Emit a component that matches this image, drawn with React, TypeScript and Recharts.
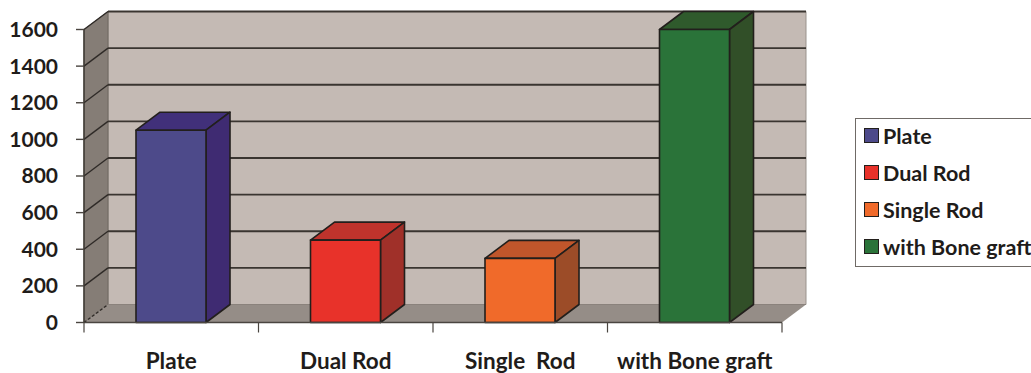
import React from "react";
import { BarChart, Bar, XAxis, YAxis, CartesianGrid, ReferenceArea } from "recharts";

const categories = ["Plate", "Dual Rod", "Single Rod", "with Bone graft"];
const axisLabels = ["Plate", "Dual Rod", "Single\u00a0 Rod", "with Bone graft"];
const values = [1050, 450, 350, 1600];
const yTicks = [0, 200, 400, 600, 800, 1000, 1200, 1400, 1600];

const frontColors = ["#4d4a8a", "#e8322a", "#f06a2a", "#2a7339"];
const topColors = ["#41307a", "#bf332c", "#c0562b", "#2f5a2c"];
const sideColors = ["#3f2b72", "#a03029", "#9c4c28", "#314f28"];

const tableRows = categories.map((name, i) => ({ name, label: axisLabels[i], value: values[i] }));

// Oblique offset of the fake 3D depth
const DX = 24;
const DY = 18;
const FONT = "Lato, 'Open Sans', sans-serif";
const INK = "#1f1c1a";

function poly(points: number[][]) {
  return points.map((p) => p.join(",")).join(" ");
}

// Back wall, left wall and floor of the box behind the bars
function Room(props: any) {
  const { x, y, width, height } = props;
  const b = y + height;
  const r = x + width;
  return (
    <g>
      <polygon points={poly([[x + DX, y - DY], [r + DX, y - DY], [r + DX, b - DY], [x + DX, b - DY]])} fill="#c4bab4" stroke="#9a938d" />
      <polygon points={poly([[x, y], [x + DX, y - DY], [x + DX, b - DY], [x, b]])} fill="#857d76" stroke="#6f6861" />
      <polygon points={poly([[x, b], [x + DX, b - DY], [r + DX, b - DY], [r, b]])} fill="#958d87" />
    </g>
  );
}

// Each grid line runs along the back wall and folds down the left wall
function GridLine(props: any) {
  const { x1, x2, y1, y2, index } = props;
  const isBase = y1 > 320;
  return (
    <g key={`grid-${index}`}>
      <line x1={x1 + DX} x2={x2 + DX} y1={y1 - DY} y2={y2 - DY} stroke={isBase ? "#8a827c" : "#3a3530"} strokeWidth={isBase ? 1 : 1.8} />
      <line x1={x1} x2={x1 + DX} y1={y1} y2={y1 - DY} stroke="#2f2b27" strokeWidth={1.4} strokeDasharray={isBase ? "3 2" : undefined} />
    </g>
  );
}

// Cuboid bar: front face plus top and right faces
function Cuboid(props: any) {
  const { x, y, width, height, index } = props;
  const r = x + width;
  const b = y + height;
  return (
    <g stroke="#221f1c" strokeWidth={1.6} strokeLinejoin="round">
      <polygon points={poly([[x, y], [x + DX, y - DY], [r + DX, y - DY], [r, y]])} fill={topColors[index]} />
      <polygon points={poly([[r, y], [r + DX, y - DY], [r + DX, b - DY], [r, b]])} fill={sideColors[index]} />
      <rect x={x} y={y} width={width} height={height} fill={frontColors[index]} />
    </g>
  );
}

// Category label with tick marks on the band edges rather than the band centre
function CategoryTick(props: any) {
  const { x, y, payload, index } = props;
  const half = payload.offset || 87.25;
  return (
    <g>
      <line x1={x - half} x2={x - half} y1={y - 8} y2={y + 2} stroke="#4a4540" strokeWidth={1.2} />
      {index === categories.length - 1 && (
        <line x1={x + half} x2={x + half} y1={y - 8} y2={y + 2} stroke="#4a4540" strokeWidth={1.2} />
      )}
      <text x={x} y={y + 38} textAnchor="middle" fontFamily={FONT} fontWeight={700} fontSize={22.5} fill={INK}>
        {axisLabels[index]}
      </text>
    </g>
  );
}

function LegendBox() {
  return (
    <div
      style={{
        position: "absolute",
        left: 855,
        top: 118,
        boxSizing: "border-box",
        width: 190,
        height: 149,
        border: "1px solid #6f6a66",
        background: "#fff",
        fontFamily: FONT,
        fontWeight: 700,
        fontSize: 21.5,
        color: INK,
        whiteSpace: "nowrap",
      }}
    >
      {categories.map((name, i) => (
        <div key={name} style={{ display: "flex", alignItems: "center", height: 37, marginTop: i === 0 ? -2 : 0, paddingLeft: 8 }}>
          <span
            style={{
              boxSizing: "border-box",
              display: "inline-block",
              width: 15,
              height: 15,
              marginRight: 4,
              background: frontColors[i],
              border: "1.5px solid #221f1c",
            }}
          />
          {name}
        </div>
      ))}
    </div>
  );
}

export default function App() {
  return (
    <div style={{ position: "absolute", left: 0, top: 0, width: 1031, height: 373, overflow: "hidden", background: "#fff" }}>
      <BarChart
        width={1031}
        height={373}
        data={tableRows}
        margin={{ top: 29.5, right: 249, bottom: 0, left: 0 }}
        barCategoryGap={0}
      >
        <ReferenceArea y1={0} y2={1600} shape={Room} ifOverflow="visible" zIndex={-500} />
        <CartesianGrid vertical={false} horizontal={GridLine as any} syncWithTicks />
        <XAxis
          dataKey="name"
          interval={0}
          tickLine={false}
          tick={CategoryTick as any}
          axisLine={{ stroke: "#4a4540", strokeWidth: 1.4 }}
          height={50.5}
        />
        <YAxis
          domain={[0, 1600]}
          ticks={yTicks}
          interval={0}
          width={84}
          tickSize={8}
          tickMargin={18}
          axisLine={{ stroke: "#3a3530", strokeWidth: 1.4 }}
          tickLine={{ stroke: "#4a4540", strokeWidth: 1.4 }}
          tick={{ fontFamily: FONT, fontWeight: 700, fontSize: 21, fill: INK }}
        />
        <Bar dataKey="value" barSize={70} shape={Cuboid as any} isAnimationActive={false} />
      </BarChart>
      <LegendBox />
    </div>
  );
}
